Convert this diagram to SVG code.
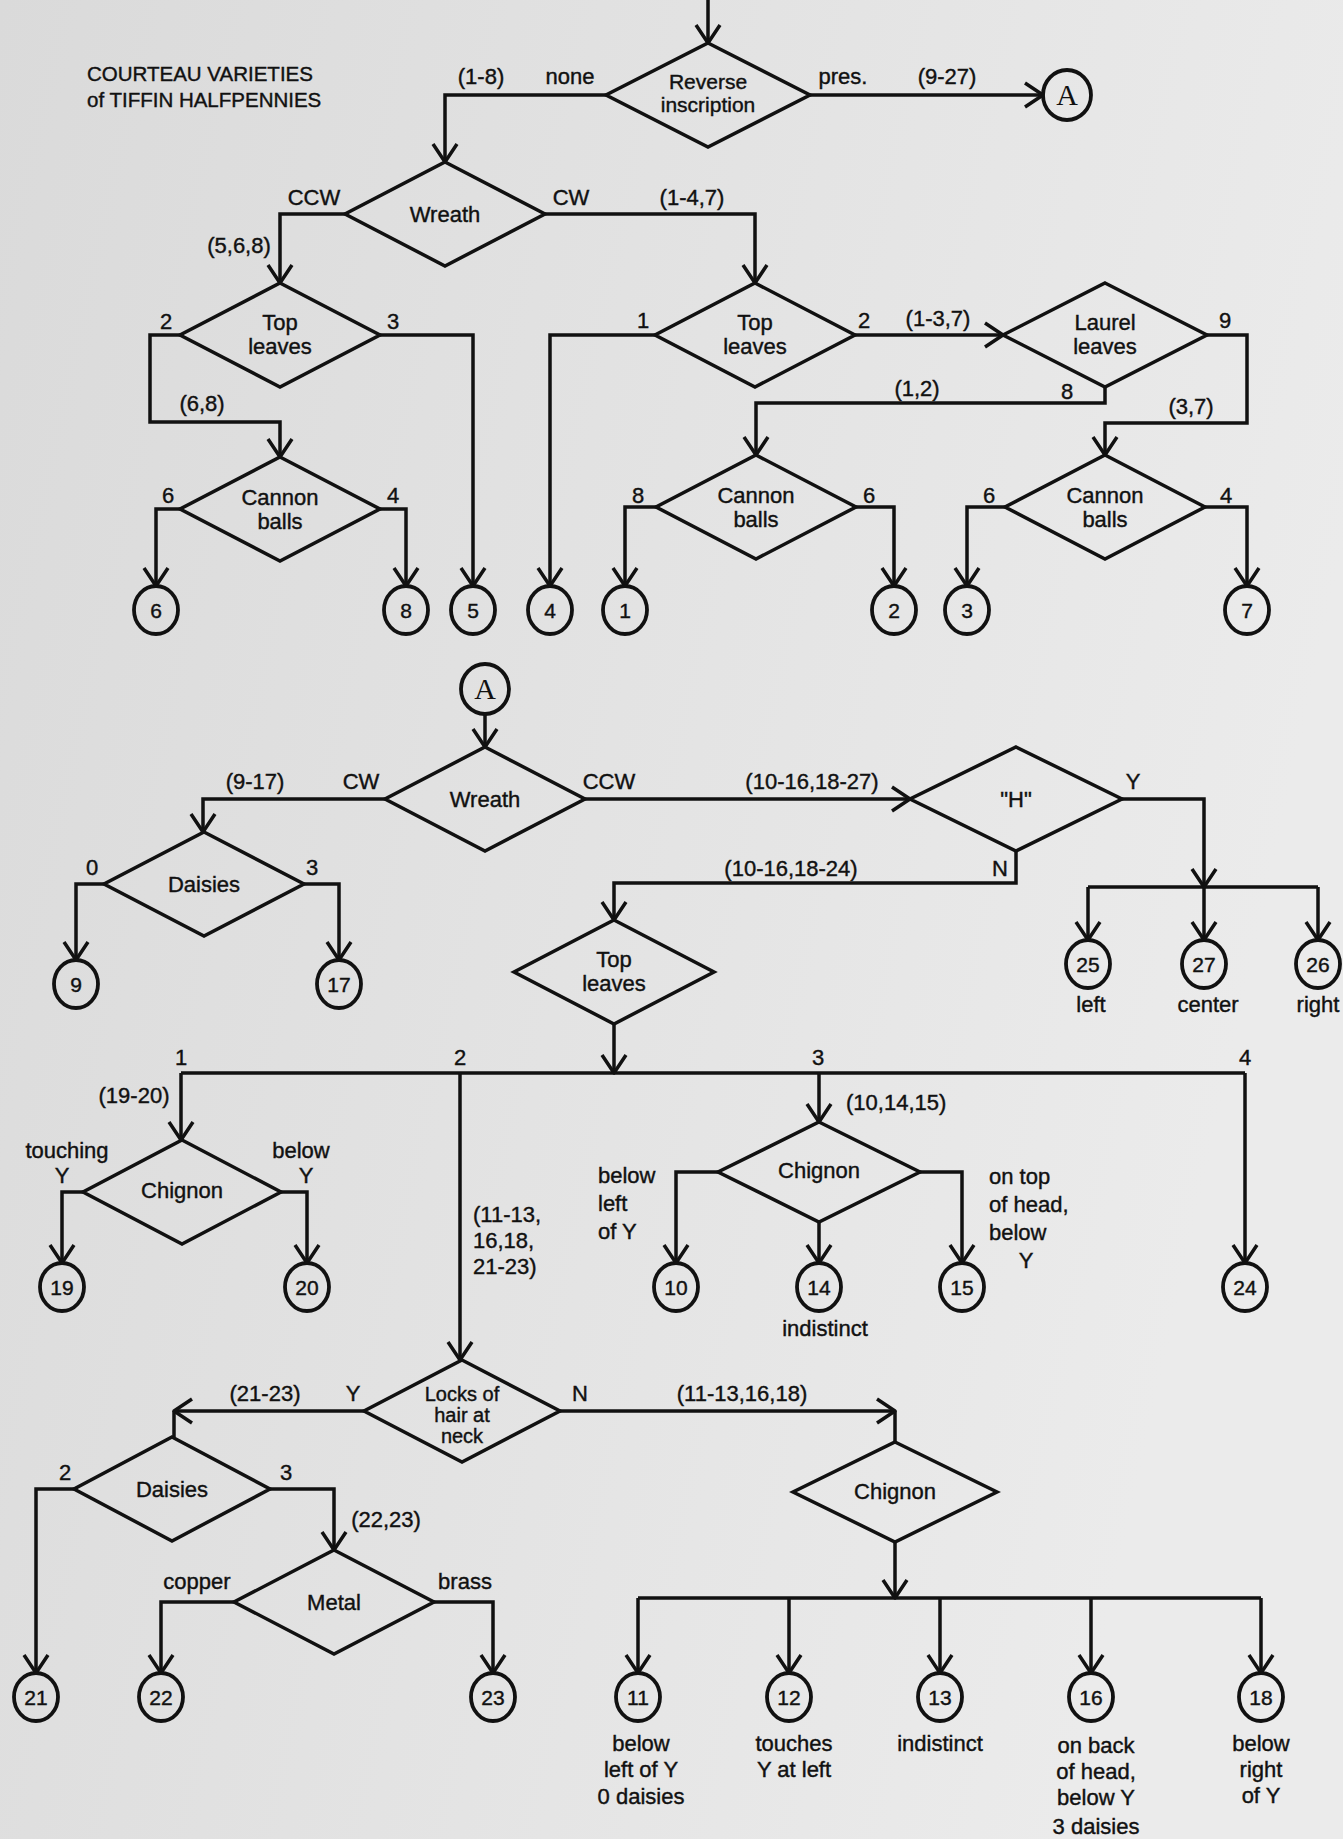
<svg xmlns="http://www.w3.org/2000/svg" width="1343" height="1839" viewBox="0 0 1343 1839">
<defs>
<linearGradient id="bg" x1="0" y1="0" x2="1" y2="0.3">
<stop offset="0" stop-color="#dadada"/>
<stop offset="1" stop-color="#ebebeb"/>
</linearGradient>
<marker id="ah" markerUnits="userSpaceOnUse" viewBox="-24 -16 28 32" refX="0" refY="0" markerWidth="28" markerHeight="32" orient="auto" overflow="visible">
<path d="M-18,-12 L0,0 L-18,12" fill="none" stroke="#111" stroke-width="3.5" stroke-linejoin="round"/>
</marker>
<style>
.ln{fill:none;stroke:#111;stroke-width:3.5;stroke-linejoin:miter}
.ar{marker-end:url(#ah)}
.dia{fill:none;stroke:#111;stroke-width:3.5;stroke-linejoin:miter}
.leaf{fill:none;stroke:#111;stroke-width:3.8}
text{font-family:"Liberation Sans",Arial,sans-serif;font-size:22px;fill:#111;stroke:#111;stroke-width:0.4}
.c{text-anchor:middle}
.s{text-anchor:start}
.num{font-size:21px;text-anchor:middle}
.A{font-family:"Liberation Serif","Times New Roman",serif;font-size:30px;text-anchor:middle;stroke-width:0}
.title{font-size:20.5px}
.lk{font-size:20px;text-anchor:middle}
.rv{font-size:21px;text-anchor:middle}
</style>
</defs>
<rect x="0" y="0" width="1343" height="1839" fill="url(#bg)"/>

<g id="title">
<text class="title s" x="87" y="81">COURTEAU VARIETIES</text>
<text class="title s" x="87" y="107">of TIFFIN HALFPENNIES</text>
</g>

<g id="connectors">
<path class="ln ar" d="M708,0 V43"/>
<path class="ln ar" d="M606,95 H445 V162"/>
<path class="ln ar" d="M810,95 H1043"/>
<path class="ln ar" d="M345,214 H280 V283"/>
<path class="ln ar" d="M545,214 H755 V283"/>
<path class="ln ar" d="M180,335 H150 V422 H280 V457"/>
<path class="ln ar" d="M380,335 H473 V586"/>
<path class="ln ar" d="M180,509 H156 V586"/>
<path class="ln ar" d="M380,509 H406 V586"/>
<path class="ln ar" d="M655,335 H550 V586"/>
<path class="ln ar" d="M855,335 H1003"/>
<path class="ln ar" d="M1105,387 V403 H756 V455"/>
<path class="ln ar" d="M1207,335 H1247 V423 H1105 V455"/>
<path class="ln ar" d="M656,507 H625 V586"/>
<path class="ln ar" d="M856,507 H894 V586"/>
<path class="ln ar" d="M1005,507 H967 V586"/>
<path class="ln ar" d="M1205,507 H1247 V586"/>
<path class="ln ar" d="M485,714 V747"/>
<path class="ln ar" d="M385,799 H203 V832"/>
<path class="ln ar" d="M585,799 H910"/>
<path class="ln ar" d="M104,884 H76 V960"/>
<path class="ln ar" d="M304,884 H339 V960"/>
<path class="ln ar" d="M1122,799 H1204 V887"/>
<path class="ln" d="M1088,887 H1318"/>
<path class="ln ar" d="M1088,887 V940"/>
<path class="ln ar" d="M1204,887 V940"/>
<path class="ln ar" d="M1318,887 V940"/>
<path class="ln ar" d="M1016,851 V883 H614 V920"/>
<path class="ln ar" d="M614,1024 V1073"/>
<path class="ln" d="M181,1073 H1245"/>
<path class="ln ar" d="M181,1073 V1140"/>
<path class="ln ar" d="M460,1073 V1360"/>
<path class="ln ar" d="M819,1073 V1122"/>
<path class="ln ar" d="M1245,1073 V1263"/>
<path class="ln ar" d="M83,1192 H62 V1263"/>
<path class="ln ar" d="M281,1192 H307 V1263"/>
<path class="ln ar" d="M718,1172 H676 V1263"/>
<path class="ln ar" d="M819,1222 V1263"/>
<path class="ln ar" d="M920,1172 H962 V1263"/>
<path class="ln ar" d="M364,1411 H174"/>
<path class="ln" d="M174,1411 V1437"/>
<path class="ln ar" d="M560,1411 H895"/>
<path class="ln" d="M895,1411 V1442"/>
<path class="ln ar" d="M74,1489 H36 V1673"/>
<path class="ln ar" d="M270,1489 H334 V1550"/>
<path class="ln ar" d="M234,1602 H161 V1673"/>
<path class="ln ar" d="M434,1602 H493 V1673"/>
<path class="ln ar" d="M895,1542 V1598"/>
<path class="ln" d="M638,1598 H1261"/>
<path class="ln ar" d="M638,1598 V1673"/>
<path class="ln ar" d="M789,1598 V1673"/>
<path class="ln ar" d="M940,1598 V1673"/>
<path class="ln ar" d="M1091,1598 V1673"/>
<path class="ln ar" d="M1261,1598 V1673"/>
</g>

<g id="edge-labels">
<text class="c" x="481" y="84">(1-8)</text>
<text class="c" x="570" y="84">none</text>
<text class="c" x="843" y="84">pres.</text>
<text class="c" x="947" y="84">(9-27)</text>
<text class="c" x="314" y="205">CCW</text>
<text class="c" x="571" y="205">CW</text>
<text class="c" x="692" y="205">(1-4,7)</text>
<text class="c" x="239" y="253">(5,6,8)</text>
<text class="c" x="166" y="329">2</text>
<text class="c" x="393" y="329">3</text>
<text class="c" x="202" y="411">(6,8)</text>
<text class="c" x="168" y="503">6</text>
<text class="c" x="393" y="503">4</text>
<text class="c" x="643" y="328">1</text>
<text class="c" x="864" y="328">2</text>
<text class="c" x="938" y="326">(1-3,7)</text>
<text class="c" x="1225" y="328">9</text>
<text class="c" x="1067" y="399">8</text>
<text class="c" x="917" y="396">(1,2)</text>
<text class="c" x="1191" y="414">(3,7)</text>
<text class="c" x="638" y="503">8</text>
<text class="c" x="869" y="503">6</text>
<text class="c" x="989" y="503">6</text>
<text class="c" x="1226" y="503">4</text>

<text class="c" x="255" y="789">(9-17)</text>
<text class="c" x="361" y="789">CW</text>
<text class="c" x="609" y="789">CCW</text>
<text class="c" x="812" y="789">(10-16,18-27)</text>
<text class="c" x="1133" y="789">Y</text>
<text class="c" x="1000" y="876">N</text>
<text class="c" x="791" y="876">(10-16,18-24)</text>
<text class="c" x="92" y="875">0</text>
<text class="c" x="312" y="875">3</text>
<text class="c" x="1091" y="1012">left</text>
<text class="c" x="1208" y="1012">center</text>
<text class="c" x="1318" y="1012">right</text>

<text class="c" x="181" y="1065">1</text>
<text class="c" x="460" y="1065">2</text>
<text class="c" x="818" y="1065">3</text>
<text class="c" x="1245" y="1065">4</text>
<text class="c" x="134" y="1103">(19-20)</text>
<text class="c" x="67" y="1158">touching</text>
<text class="c" x="62" y="1183">Y</text>
<text class="c" x="301" y="1158">below</text>
<text class="c" x="306" y="1183">Y</text>
<text class="s" x="473" y="1222">(11-13,</text>
<text class="s" x="473" y="1248">16,18,</text>
<text class="s" x="473" y="1274">21-23)</text>
<text class="s" x="846" y="1110">(10,14,15)</text>
<text class="s" x="598" y="1183">below</text>
<text class="s" x="598" y="1211">left</text>
<text class="s" x="598" y="1239">of Y</text>
<text class="s" x="989" y="1184">on top</text>
<text class="s" x="989" y="1212">of head,</text>
<text class="s" x="989" y="1240">below</text>
<text class="c" x="1026" y="1268">Y</text>
<text class="c" x="825" y="1336">indistinct</text>

<text class="c" x="265" y="1401">(21-23)</text>
<text class="c" x="353" y="1401">Y</text>
<text class="c" x="580" y="1401">N</text>
<text class="c" x="742" y="1401">(11-13,16,18)</text>
<text class="c" x="65" y="1480">2</text>
<text class="c" x="286" y="1480">3</text>
<text class="c" x="386" y="1527">(22,23)</text>
<text class="c" x="197" y="1589">copper</text>
<text class="c" x="465" y="1589">brass</text>

<text class="c" x="641" y="1751">below</text>
<text class="c" x="641" y="1777">left of Y</text>
<text class="c" x="641" y="1804">0 daisies</text>
<text class="c" x="794" y="1751">touches</text>
<text class="c" x="794" y="1777">Y at left</text>
<text class="c" x="940" y="1751">indistinct</text>
<text class="c" x="1096" y="1753">on back</text>
<text class="c" x="1096" y="1779">of head,</text>
<text class="c" x="1096" y="1805">below Y</text>
<text class="c" x="1096" y="1834">3 daisies</text>
<text class="c" x="1261" y="1751">below</text>
<text class="c" x="1261" y="1777">right</text>
<text class="c" x="1261" y="1803">of Y</text>
</g>

<g id="n-reverse"><polygon class="dia" points="708,43 810,95 708,147 606,95"/><text class="rv" x="708" y="89">Reverse</text><text class="rv" x="708" y="112">inscription</text></g>
<g id="n-wreath1"><polygon class="dia" points="445,162 545,214 445,266 345,214"/><text class="c" x="445" y="222">Wreath</text></g>
<g id="n-topleaves1"><polygon class="dia" points="280,283 380,335 280,387 180,335"/><text class="c" x="280" y="330">Top</text><text class="c" x="280" y="354">leaves</text></g>
<g id="n-cannon1"><polygon class="dia" points="280,457 380,509 280,561 180,509"/><text class="c" x="280" y="505">Cannon</text><text class="c" x="280" y="529">balls</text></g>
<g id="n-topleaves2"><polygon class="dia" points="755,283 855,335 755,387 655,335"/><text class="c" x="755" y="330">Top</text><text class="c" x="755" y="354">leaves</text></g>
<g id="n-laurel"><polygon class="dia" points="1105,283 1207,335 1105,387 1003,335"/><text class="c" x="1105" y="330">Laurel</text><text class="c" x="1105" y="354">leaves</text></g>
<g id="n-cannon2"><polygon class="dia" points="756,455 856,507 756,559 656,507"/><text class="c" x="756" y="503">Cannon</text><text class="c" x="756" y="527">balls</text></g>
<g id="n-cannon3"><polygon class="dia" points="1105,455 1205,507 1105,559 1005,507"/><text class="c" x="1105" y="503">Cannon</text><text class="c" x="1105" y="527">balls</text></g>
<g id="n-wreath2"><polygon class="dia" points="485,747 585,799 485,851 385,799"/><text class="c" x="485" y="807">Wreath</text></g>
<g id="n-daisies1"><polygon class="dia" points="204,832 304,884 204,936 104,884"/><text class="c" x="204" y="892">Daisies</text></g>
<g id="n-h"><polygon class="dia" points="1016,747 1122,799 1016,851 910,799"/><text class="c" x="1016" y="807">"H"</text></g>
<g id="n-topleaves3"><polygon class="dia" points="614,920 714,972 614,1024 514,972"/><text class="c" x="614" y="967">Top</text><text class="c" x="614" y="991">leaves</text></g>
<g id="n-chignon1"><polygon class="dia" points="182,1140 281,1192 182,1244 83,1192"/><text class="c" x="182" y="1198">Chignon</text></g>
<g id="n-chignon2"><polygon class="dia" points="819,1122 920,1172 819,1222 718,1172"/><text class="c" x="819" y="1178">Chignon</text></g>
<g id="n-locks"><polygon class="dia" points="462,1360 560,1411 462,1462 364,1411"/><text class="lk" x="462" y="1401">Locks of</text><text class="lk" x="462" y="1422">hair at</text><text class="lk" x="462" y="1443">neck</text></g>
<g id="n-daisies2"><polygon class="dia" points="172,1437 270,1489 172,1541 74,1489"/><text class="c" x="172" y="1497">Daisies</text></g>
<g id="n-metal"><polygon class="dia" points="334,1550 434,1602 334,1654 234,1602"/><text class="c" x="334" y="1610">Metal</text></g>
<g id="n-chignon3"><polygon class="dia" points="895,1442 997,1492 895,1542 793,1492"/><text class="c" x="895" y="1499">Chignon</text></g>

<g id="c-A1"><ellipse class="leaf" cx="1067" cy="95" rx="24" ry="25"/><text class="A" x="1067" y="105">A</text></g>
<g id="c-A2"><ellipse class="leaf" cx="485" cy="689" rx="24" ry="25"/><text class="A" x="485" y="699">A</text></g>

<g id="r6"><ellipse class="leaf" cx="156" cy="610" rx="22" ry="24"/><text class="num" x="156" y="618">6</text></g>
<g id="r8"><ellipse class="leaf" cx="406" cy="610" rx="22" ry="24"/><text class="num" x="406" y="618">8</text></g>
<g id="r5"><ellipse class="leaf" cx="473" cy="610" rx="22" ry="24"/><text class="num" x="473" y="618">5</text></g>
<g id="r4"><ellipse class="leaf" cx="550" cy="610" rx="22" ry="24"/><text class="num" x="550" y="618">4</text></g>
<g id="r1"><ellipse class="leaf" cx="625" cy="610" rx="22" ry="24"/><text class="num" x="625" y="618">1</text></g>
<g id="r2"><ellipse class="leaf" cx="894" cy="610" rx="22" ry="24"/><text class="num" x="894" y="618">2</text></g>
<g id="r3"><ellipse class="leaf" cx="967" cy="610" rx="22" ry="24"/><text class="num" x="967" y="618">3</text></g>
<g id="r7"><ellipse class="leaf" cx="1247" cy="610" rx="22" ry="24"/><text class="num" x="1247" y="618">7</text></g>
<g id="r9"><ellipse class="leaf" cx="76" cy="984" rx="22" ry="24"/><text class="num" x="76" y="992">9</text></g>
<g id="r17"><ellipse class="leaf" cx="339" cy="984" rx="22" ry="24"/><text class="num" x="339" y="992">17</text></g>
<g id="r25"><ellipse class="leaf" cx="1088" cy="964" rx="22" ry="24"/><text class="num" x="1088" y="972">25</text></g>
<g id="r27"><ellipse class="leaf" cx="1204" cy="964" rx="22" ry="24"/><text class="num" x="1204" y="972">27</text></g>
<g id="r26"><ellipse class="leaf" cx="1318" cy="964" rx="22" ry="24"/><text class="num" x="1318" y="972">26</text></g>
<g id="r19"><ellipse class="leaf" cx="62" cy="1287" rx="22" ry="24"/><text class="num" x="62" y="1295">19</text></g>
<g id="r20"><ellipse class="leaf" cx="307" cy="1287" rx="22" ry="24"/><text class="num" x="307" y="1295">20</text></g>
<g id="r10"><ellipse class="leaf" cx="676" cy="1287" rx="22" ry="24"/><text class="num" x="676" y="1295">10</text></g>
<g id="r14"><ellipse class="leaf" cx="819" cy="1287" rx="22" ry="24"/><text class="num" x="819" y="1295">14</text></g>
<g id="r15"><ellipse class="leaf" cx="962" cy="1287" rx="22" ry="24"/><text class="num" x="962" y="1295">15</text></g>
<g id="r24"><ellipse class="leaf" cx="1245" cy="1287" rx="22" ry="24"/><text class="num" x="1245" y="1295">24</text></g>
<g id="r21"><ellipse class="leaf" cx="36" cy="1697" rx="22" ry="24"/><text class="num" x="36" y="1705">21</text></g>
<g id="r22"><ellipse class="leaf" cx="161" cy="1697" rx="22" ry="24"/><text class="num" x="161" y="1705">22</text></g>
<g id="r23"><ellipse class="leaf" cx="493" cy="1697" rx="22" ry="24"/><text class="num" x="493" y="1705">23</text></g>
<g id="r11"><ellipse class="leaf" cx="638" cy="1697" rx="22" ry="24"/><text class="num" x="638" y="1705">11</text></g>
<g id="r12"><ellipse class="leaf" cx="789" cy="1697" rx="22" ry="24"/><text class="num" x="789" y="1705">12</text></g>
<g id="r13"><ellipse class="leaf" cx="940" cy="1697" rx="22" ry="24"/><text class="num" x="940" y="1705">13</text></g>
<g id="r16"><ellipse class="leaf" cx="1091" cy="1697" rx="22" ry="24"/><text class="num" x="1091" y="1705">16</text></g>
<g id="r18"><ellipse class="leaf" cx="1261" cy="1697" rx="22" ry="24"/><text class="num" x="1261" y="1705">18</text></g>
</svg>
